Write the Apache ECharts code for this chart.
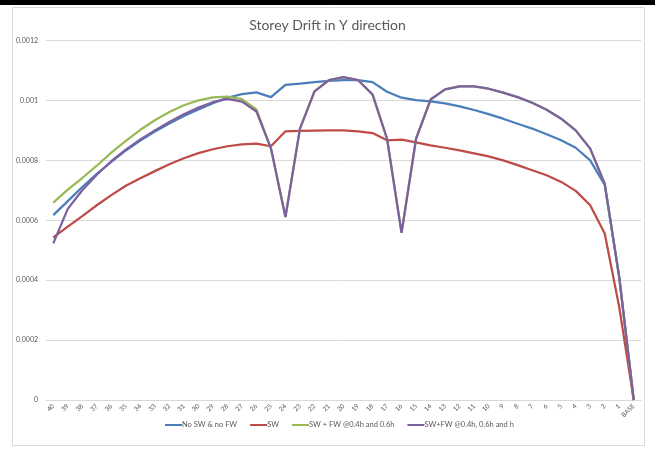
<!DOCTYPE html>
<html>
<head>
<meta charset="utf-8">
<script src="https://cdn.jsdelivr.net/npm/echarts@6/dist/echarts.min.js"></script>
<style>
  html, body { margin: 0; padding: 0; background: #fff; }
  #chart { width: 655px; height: 450px; }
</style>
</head>
<body>
<div id="chart"></div>
<script>
// storeys, top to bottom
const storeys = ['40', '39', '38', '37', '36', '35', '34', '33', '32', '31', '30', '29', '28', '27', '26', '25', '24', '23', '22', '21',
  '20', '19', '18', '17', '16', '15', '14', '13', '12', '11', '10', '9', '8', '7', '6', '5', '4', '3', '2', '1', 'BASE']

const noSwNoFw = [0.000617, 0.000664, 0.000711, 0.000755, 0.000795, 0.000833, 0.000866, 0.000896, 0.000923, 0.000948,
  0.00097, 0.000991, 0.001009, 0.001021, 0.001027, 0.001011, 0.001052, 0.001056, 0.001061, 0.001065,
  0.001068, 0.001068, 0.001061, 0.001029, 0.001009, 0.001001, 0.000997, 0.00099, 0.00098, 0.000968,
  0.000954, 0.000939, 0.000922, 0.000906, 0.000887, 0.000867, 0.000842, 0.0008, 0.000718, 0.00041, 0]

const sw = [0.000543, 0.000579, 0.000614, 0.00065, 0.000684, 0.000715, 0.00074, 0.000764, 0.000787, 0.000807,
  0.000824, 0.000837, 0.000847, 0.000853, 0.000856, 0.000847, 0.000897, 0.000898, 0.000899, 0.0009,
  0.0009, 0.000897, 0.000891, 0.000867, 0.000869, 0.00086, 0.00085, 0.000842, 0.000833, 0.000823,
  0.000813, 0.0008, 0.000784, 0.000767, 0.00075, 0.000728, 0.000698, 0.00065, 0.000556, 0.00031, 0]

const swFw46 = [0.000659, 0.000702, 0.000741, 0.000782, 0.000826, 0.000865, 0.000902, 0.000934, 0.000961, 0.000984,
  0.001, 0.00101, 0.001013, 0.001004, 0.00097, 0.00084, 0.000611, 0.000906, 0.00103, 0.001068,
  0.001078, 0.001068, 0.00102, 0.000872, 0.000558, 0.000872, 0.001003, 0.001037, 0.001047, 0.001047,
  0.001039, 0.001026, 0.001011, 0.000992, 0.000969, 0.000939, 0.0009, 0.000839, 0.000722, 0.00041, 0]

const swFw46h = [0.000523, 0.000638, 0.0007, 0.000752, 0.000797, 0.000836, 0.00087, 0.0009, 0.000928, 0.000954,
  0.000976, 0.000994, 0.001005, 0.000996, 0.000963, 0.00084, 0.000611, 0.000906, 0.00103, 0.001068,
  0.001078, 0.001068, 0.00102, 0.000872, 0.000558, 0.000872, 0.001003, 0.001037, 0.001047, 0.001047,
  0.001039, 0.001026, 0.001011, 0.000992, 0.000969, 0.000939, 0.0009, 0.000839, 0.000722, 0.00041, 0]

const seriesNames = ['No SW & no FW', 'SW', 'SW + FW @0.4h and 0.6h', 'SW+FW @0.4h, 0.6h and h']
const seriesColors = ['#4A7EBB', '#BE4B48', '#98B954', '#7D60A0']
const seriesData = [noSwNoFw, sw, swFw46, swFw46h]

const textColor = '#595959'
const gridColor = '#d9d9d9'
const fontFamily = 'Lato, "Open Sans", sans-serif'

const chart = echarts.init(document.getElementById('chart'), null, { renderer: 'canvas' })

const option = {
  animation: false,
  backgroundColor: '#fff',
  textStyle: { fontFamily },
  title: {
    text: 'Storey Drift in Y direction',
    left: 'center',
    top: 13,
    textStyle: { color: textColor, fontSize: 14, fontWeight: 'normal', fontFamily }
  },
  graphic: [
    { type: 'rect', shape: { x: 12.5, y: 7.5, width: 632, height: 438 }, style: { fill: 'none', stroke: gridColor, lineWidth: 1 }, silent: true },
    { type: 'rect', shape: { x: 0, y: 0, width: 655, height: 5 }, style: { fill: '#000' }, silent: true }
  ],
  legend: {
    data: seriesNames,
    bottom: 16,
    left: 160,
    icon: 'rect',
    itemWidth: 17,
    itemHeight: 2,
    itemGap: 13,
    textStyle: { color: textColor, fontSize: 7.5, fontFamily, padding: [0, 0, 0, -5] }
  },
  grid: { left: 46, right: 14, top: 40.5, bottom: 50, containLabel: false },
  xAxis: {
    type: 'category',
    data: storeys,
    boundaryGap: true,
    axisLine: { show: true, lineStyle: { color: gridColor, width: 1 } },
    axisTick: { show: false },
    axisLabel: { color: textColor, fontSize: 6.5, rotate: 45, interval: 0, margin: 5, fontFamily }
  },
  yAxis: {
    type: 'value',
    min: 0,
    max: 0.0012,
    interval: 0.0002,
    axisLine: { show: false },
    axisTick: { show: false },
    splitLine: { lineStyle: { color: gridColor, width: 1 } },
    axisLabel: {
      color: textColor,
      fontSize: 7,
      margin: 8,
      fontFamily,
      formatter: (value) => value === 0 ? '0' : String(parseFloat(value.toFixed(4)))
    }
  },
  series: seriesData.map((data, i) => ({
    name: seriesNames[i],
    type: 'line',
    data,
    showSymbol: false,
    symbol: 'none',
    lineStyle: { color: seriesColors[i], width: 2.25 },
    itemStyle: { color: seriesColors[i] },
    z: 2 + i
  }))
}

chart.setOption(option)
</script>
</body>
</html>
